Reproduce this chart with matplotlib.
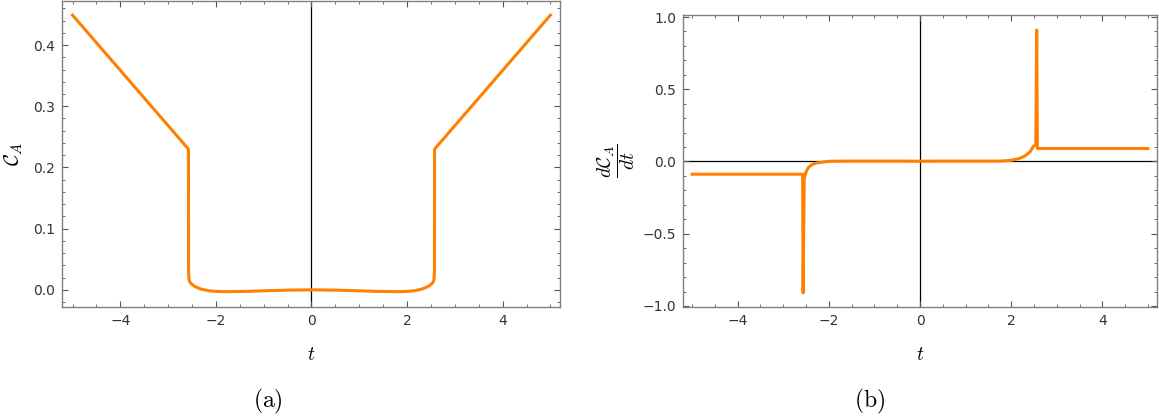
import numpy as np
import matplotlib
matplotlib.use("Agg")
import matplotlib.pyplot as plt
from matplotlib.ticker import MultipleLocator, FuncFormatter

plt.rcParams['mathtext.fontset'] = 'cm'
plt.rcParams['font.family'] = ['DejaVu Sans']

# panel (a): C_A(t)
t_a = [-5.0, -2.575, -2.572, -2.565, -2.55, -2.53, -2.5, -2.45, -2.4, -2.3, -2.15, -2.0, -1.8, -1.4, -1.0, -0.5, 0.0,
       0.5, 1.0, 1.4, 1.8, 2.0, 2.15, 2.3, 2.4, 2.45, 2.5, 2.53, 2.55, 2.565, 2.572, 2.575, 5.0]
c_a = [0.449, 0.230, 0.030, 0.018, 0.014, 0.011, 0.009, 0.006, 0.004, 0.001, -0.0015, -0.0025, -0.003, -0.0025, -0.0016, -0.0005, 0.0,
       -0.0005, -0.0016, -0.0025, -0.003, -0.0025, -0.0015, 0.001, 0.004, 0.006, 0.009, 0.011, 0.014, 0.018, 0.030, 0.230, 0.449]

# panel (b): dC_A/dt
t_b = [-5.0, -2.575, -2.565, -2.54, -2.50, -2.45, -2.37, -2.27, -2.1, -1.97, -1.5, -1.0, -0.5, 0.0,
       0.5, 1.0, 1.5, 1.75, 2.0, 2.19, 2.3, 2.41, 2.48, 2.54, 2.56, 2.575, 5.0]
d_b = [-0.088, -0.088, -0.91, -0.115, -0.072, -0.042, -0.021, -0.010, -0.003, 0.002, 0.003, 0.003, 0.003, 0.002,
       0.003, 0.003, 0.003, 0.003, 0.008, 0.022, 0.038, 0.066, 0.101, 0.12, 0.91, 0.09, 0.09]

orange = '#ff8000'
frame_col = '#808080'


def fmt1(v, pos):
    return f'{v:.1f}'.replace('-', '\u2212')


def fmt0(v, pos):
    return f'{v:.0f}'.replace('-', '\u2212')


def style(ax, xminor, ymajor, yminor):
    for s in ax.spines.values():
        s.set_color(frame_col)
        s.set_linewidth(1.0)
    ax.xaxis.set_major_locator(MultipleLocator(2))
    ax.xaxis.set_minor_locator(MultipleLocator(xminor))
    ax.yaxis.set_major_locator(MultipleLocator(ymajor))
    ax.yaxis.set_minor_locator(MultipleLocator(yminor))
    ax.xaxis.set_major_formatter(FuncFormatter(fmt0))
    ax.yaxis.set_major_formatter(FuncFormatter(fmt1))
    ax.tick_params(which='both', direction='in', top=True, right=True,
                   color='#555555', labelsize=10, labelcolor='#333333')
    ax.tick_params(which='major', length=4.5, width=0.8, pad=5)
    ax.tick_params(which='minor', length=2.5, width=0.6)


fig = plt.figure(figsize=(11.59, 4.18), dpi=100)

ax1 = fig.add_axes([0.0535, 0.2656, 0.4297, 0.732])
ax1.axvline(0, color='black', lw=0.9, zorder=1)
ax1.plot(t_a, c_a, color=orange, lw=2.2, zorder=2)
ax1.set_xlim(-5.22, 5.2)
ax1.set_ylim(-0.028, 0.472)
style(ax1, 0.5, 0.1, 0.02)
ax1.set_xlabel(r'$t$', fontsize=14, labelpad=12)
ax1.set_ylabel(r'$\mathcal{C}_A$', fontsize=15, labelpad=6)

ax2 = fig.add_axes([0.5893, 0.2656, 0.409, 0.6985])
ax2.axvline(0, color='black', lw=0.9, zorder=1)
ax2.axhline(0, color='black', lw=0.9, zorder=1)
ax2.plot(t_b, d_b, color=orange, lw=2.2, zorder=2)
ax2.set_xlim(-5.2, 5.2)
ax2.set_ylim(-1.007, 1.014)
style(ax2, 0.5, 0.5, 0.1)
ax2.set_xlabel(r'$t$', fontsize=14, labelpad=12)
ax2.set_ylabel(r'$\dfrac{d\mathcal{C}_A}{dt}$', fontsize=14, labelpad=4)

fig.text(268 / 1159, 1 - 401 / 418, r'$\mathrm{(a)}$', fontsize=17, ha='center', va='center')
fig.text(870 / 1159, 1 - 401 / 418, r'$\mathrm{(b)}$', fontsize=17, ha='center', va='center')

fig.savefig('out.png', dpi=100)
